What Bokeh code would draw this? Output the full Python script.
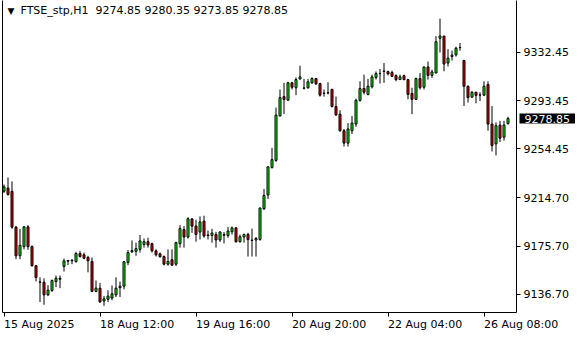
from bokeh.plotting import figure
from bokeh.models import ColumnDataSource, FixedTicker, Range1d, Label, LinearAxis, PrintfTickFormatter
from bokeh.embed import file_html
from bokeh.resources import INLINE

symbol = "FTSE_stp,H1"

opens = [9220.0, 9222.6, 9220.0, 9191.0, 9167.8, 9175.2, 9191.2, 9175.2, 9159.8, 9146.4,
         9146.4, 9136.2, 9139.8, 9147.0, 9148.8, 9159.2, 9163.4, 9163.7, 9163.0, 9169.6,
         9168.6, 9166.4, 9163.2, 9139.0, 9141.6, 9131.2, 9132.6, 9133.6, 9136.2, 9142.0,
         9143.2, 9162.4, 9171.0, 9171.4, 9173.0, 9177.0, 9179.2, 9177.6, 9171.8, 9169.4,
         9167.2, 9161.0, 9164.6, 9161.0, 9177.6, 9189.0, 9183.0, 9197.6, 9191.8, 9187.0,
         9195.8, 9184.2, 9184.2, 9185.0, 9180.6, 9185.0, 9184.2, 9187.2, 9190.4, 9179.2,
         9183.0, 9185.0, 9180.2, 9180.6, 9181.0, 9205.8, 9217.0, 9239.2, 9245.0, 9281.0,
         9296.6, 9293.8, 9307.8, 9303.8, 9310.9, 9303.6, 9303.8, 9307.8, 9311.2, 9307.2,
         9299.2, 9299.6, 9302.4, 9288.6, 9282.4, 9269.0, 9259.0, 9269.0, 9274.4, 9293.6,
         9303.2, 9298.4, 9304.6, 9312.0, 9315.2, 9317.0, 9316.8, 9316.2, 9313.6, 9310.4,
         9313.6, 9310.4, 9299.2, 9294.4, 9311.2, 9304.2, 9320.6, 9313.8, 9315.8, 9343.8,
         9345.6, 9323.8, 9329.0, 9330.4, 9336.2, 9325.8, 9305.0, 9296.2, 9300.2, 9297.8,
         9297.8, 9306.4, 9274.4, 9258.4, 9273.6, 9263.8, 9274.85]
highs = [9225.5, 9231.2, 9228.0, 9192.0, 9189.6, 9191.8, 9192.6, 9176.2, 9160.0, 9150.4,
         9149.6, 9144.0, 9148.6, 9151.7, 9151.8, 9165.6, 9164.5, 9165.0, 9171.0, 9171.8,
         9170.4, 9167.8, 9166.4, 9147.8, 9145.8, 9135.2, 9139.8, 9143.8, 9150.4, 9147.0,
         9163.4, 9172.5, 9180.2, 9178.4, 9184.6, 9181.8, 9182.4, 9178.4, 9173.0, 9170.4,
         9168.0, 9173.0, 9173.0, 9179.2, 9192.6, 9191.8, 9199.0, 9198.4, 9197.0, 9199.7,
         9200.2, 9188.2, 9189.6, 9187.2, 9187.8, 9187.0, 9191.2, 9191.4, 9191.0, 9185.0,
         9185.8, 9186.4, 9189.8, 9183.0, 9207.0, 9221.8, 9240.0, 9255.2, 9287.8, 9302.4,
         9307.8, 9308.6, 9308.6, 9312.2, 9321.6, 9311.0, 9311.0, 9312.2, 9311.8, 9307.8,
         9302.4, 9308.2, 9303.0, 9296.6, 9285.6, 9270.4, 9275.2, 9281.0, 9295.0, 9309.0,
         9314.4, 9311.0, 9314.4, 9317.0, 9319.0, 9323.8, 9317.6, 9317.6, 9314.7, 9314.4,
         9314.4, 9311.0, 9303.8, 9312.0, 9315.8, 9321.0, 9325.0, 9318.4, 9345.6, 9359.8,
         9345.8, 9335.0, 9333.8, 9337.0, 9340.0, 9326.4, 9305.6, 9301.0, 9300.2, 9300.2,
         9309.0, 9309.0, 9289.0, 9275.8, 9277.0, 9277.0, 9280.35]
lows = [9218.5, 9216.5, 9189.6, 9165.0, 9165.0, 9173.0, 9172.6, 9159.0, 9147.0, 9130.4,
        9128.2, 9135.2, 9138.4, 9142.4, 9141.6, 9155.0, 9160.2, 9161.0, 9162.4, 9166.4,
        9165.0, 9154.4, 9138.4, 9138.4, 9129.8, 9127.2, 9130.4, 9131.8, 9134.4, 9134.4,
        9140.6, 9160.2, 9170.0, 9167.8, 9170.4, 9174.4, 9174.4, 9170.4, 9167.2, 9166.4,
        9160.0, 9159.8, 9159.8, 9159.5, 9174.4, 9174.4, 9181.8, 9186.4, 9179.2, 9181.0,
        9182.4, 9181.0, 9178.4, 9174.4, 9179.0, 9177.8, 9182.4, 9185.0, 9178.4, 9178.4,
        9178.4, 9167.2, 9167.2, 9167.2, 9180.0, 9205.0, 9213.8, 9238.4, 9243.8, 9280.6,
        9282.4, 9293.0, 9302.4, 9297.8, 9310.4, 9302.4, 9303.0, 9307.0, 9306.0, 9296.6,
        9296.6, 9298.4, 9287.8, 9281.0, 9268.2, 9256.2, 9256.2, 9266.4, 9272.2, 9292.6,
        9298.4, 9297.6, 9303.2, 9310.4, 9307.2, 9307.8, 9313.8, 9312.6, 9309.0, 9310.4,
        9309.8, 9294.4, 9282.4, 9294.0, 9302.4, 9302.4, 9310.4, 9311.8, 9315.4, 9332.3,
        9317.1, 9321.0, 9325.8, 9329.0, 9333.8, 9289.0, 9291.8, 9295.8, 9291.2, 9293.0,
        9297.0, 9269.0, 9252.2, 9249.0, 9259.8, 9261.0, 9273.85]
closes = [9223.5, 9217.4, 9191.0, 9167.8, 9176.2, 9191.2, 9175.2, 9159.8, 9150.2, 9146.6,
          9136.2, 9140.0, 9147.8, 9149.6, 9149.6, 9163.7, 9164.0, 9164.2, 9169.6, 9167.2,
          9165.8, 9163.7, 9139.0, 9141.6, 9130.4, 9133.0, 9135.2, 9137.0, 9141.6, 9143.2,
          9163.0, 9170.4, 9172.0, 9173.6, 9179.8, 9179.2, 9176.6, 9171.8, 9168.6, 9167.0,
          9161.0, 9163.2, 9160.2, 9178.4, 9189.8, 9183.0, 9197.8, 9191.8, 9185.0, 9195.2,
          9183.8, 9184.6, 9186.2, 9180.6, 9187.0, 9184.4, 9187.8, 9190.4, 9179.2, 9183.2,
          9185.0, 9181.0, 9180.4, 9181.8, 9206.4, 9216.6, 9239.8, 9245.6, 9281.6, 9295.8,
          9294.4, 9307.8, 9304.2, 9310.4, 9312.6, 9303.4, 9308.6, 9311.2, 9307.0, 9297.8,
          9299.4, 9299.8, 9288.6, 9281.8, 9269.0, 9259.0, 9270.4, 9275.2, 9293.6, 9303.2,
          9300.2, 9305.0, 9312.6, 9315.2, 9315.4, 9317.4, 9315.0, 9313.0, 9310.4, 9312.6,
          9310.4, 9298.4, 9294.4, 9311.2, 9303.8, 9320.6, 9313.8, 9316.6, 9341.0, 9345.6,
          9323.0, 9327.8, 9330.2, 9335.8, 9336.4, 9305.0, 9295.8, 9300.2, 9297.6, 9298.0,
          9305.0, 9274.4, 9257.1, 9273.0, 9263.0, 9273.6, 9278.85]

date_tick_index = [0, 24, 48, 72, 96, 120]
date_tick_labels = ["15 Aug 2025", "18 Aug 12:00", "19 Aug 16:00",
                    "20 Aug 20:00", "22 Aug 04:00", "26 Aug 08:00"]
price_ticks = [9136.70, 9175.70, 9214.70, 9254.45, 9293.45, 9332.45]

UP = "#00FF00"
DOWN = "#E80000"
FONT = "DejaVu Sans"

n = len(opens)
idx = list(range(n))
src = ColumnDataSource(dict(
    x=idx, o=opens, h=highs, l=lows, c=closes,
    top=[max(a, b) for a, b in zip(opens, closes)],
    bottom=[min(a, b) for a, b in zip(opens, closes)],
    color=[UP if c >= o else DOWN for o, c in zip(opens, closes)],
))

p = figure(width=580, height=340, output_backend="svg", toolbar_location=None,
           x_range=Range1d(-0.375, 128.125), y_range=Range1d(9121.9, 9374.4),
           x_axis_location=None, y_axis_location=None,
           min_border_left=2, min_border_right=64, min_border_top=0, min_border_bottom=24)
p.background_fill_color = "white"
p.border_fill_color = "white"
p.outline_line_color = None
p.grid.visible = False

p.segment(x0="x", y0="l", x1="x", y1="h", source=src, line_color="black", line_width=1)
p.vbar(x="x", width=0.5, top="top", bottom="bottom", source=src,
       fill_color="color", line_color="black", line_width=1)


def style(ax):
    ax.axis_line_color = "black"
    ax.major_tick_line_color = "black"
    ax.major_tick_out = 4
    ax.major_tick_in = 0
    ax.minor_tick_line_color = None
    ax.major_label_text_font = FONT
    ax.major_label_text_font_size = "11px"
    ax.major_label_text_color = "black"
    ax.major_label_standoff = 3


# left border: a bare axis line
left_line = LinearAxis(ticker=FixedTicker(ticks=[]))
style(left_line)
left_line.major_tick_out = 0
left_line.major_label_standoff = 0
p.add_layout(left_line, "left")

# bottom time axis; a tiny negative angle makes labels start at their ticks
xaxis = LinearAxis(ticker=FixedTicker(ticks=date_tick_index),
                   major_label_overrides={i: t for i, t in zip(date_tick_index, date_tick_labels)})
style(xaxis)
xaxis.major_label_orientation = -1e-6
xaxis.major_label_standoff = 8
p.add_layout(xaxis, "below")

# right price scale: line + tick marks next to the frame
yticks = LinearAxis(ticker=FixedTicker(ticks=price_ticks),
                    major_label_overrides={t: "" for t in price_ticks})
style(yticks)
yticks.major_label_standoff = 0
p.add_layout(yticks, "right")

# current price tag (black box, white text)
p.add_layout(Label(x=-1, y=closes[-1], x_units="screen", y_units="data",
                   text=f"{closes[-1]:.2f}", text_font=FONT, text_font_size="11px",
                   text_color="white", text_baseline="middle", text_align="left",
                   background_fill_color="black", padding=(5, 1)), "right")

# price labels, pulled back next to the tick marks
ylabels = LinearAxis(ticker=FixedTicker(ticks=price_ticks),
                     formatter=PrintfTickFormatter(format="%.2f"))
style(ylabels)
ylabels.axis_line_color = None
ylabels.major_tick_line_color = None
ylabels.major_tick_out = 0
ylabels.major_label_standoff = -52
p.add_layout(ylabels, "right")

hdr_vals = f"{opens[-1]:.2f} {highs[-1]:.2f} {lows[-1]:.2f} {closes[-1]:.2f}"
p.add_layout(Label(x=5, y=307, x_units="screen", y_units="screen", text="\u25bc",
                   text_font=FONT, text_font_size="9px", text_color="black",
                   text_baseline="top"))
p.add_layout(Label(x=18, y=309, x_units="screen", y_units="screen",
                   text=f"{symbol}\u00a0\u00a0{hdr_vals}",
                   text_font=FONT, text_font_size="11px", text_color="black",
                   text_baseline="top"))

open("out.html", "w").write(file_html(p, INLINE))
